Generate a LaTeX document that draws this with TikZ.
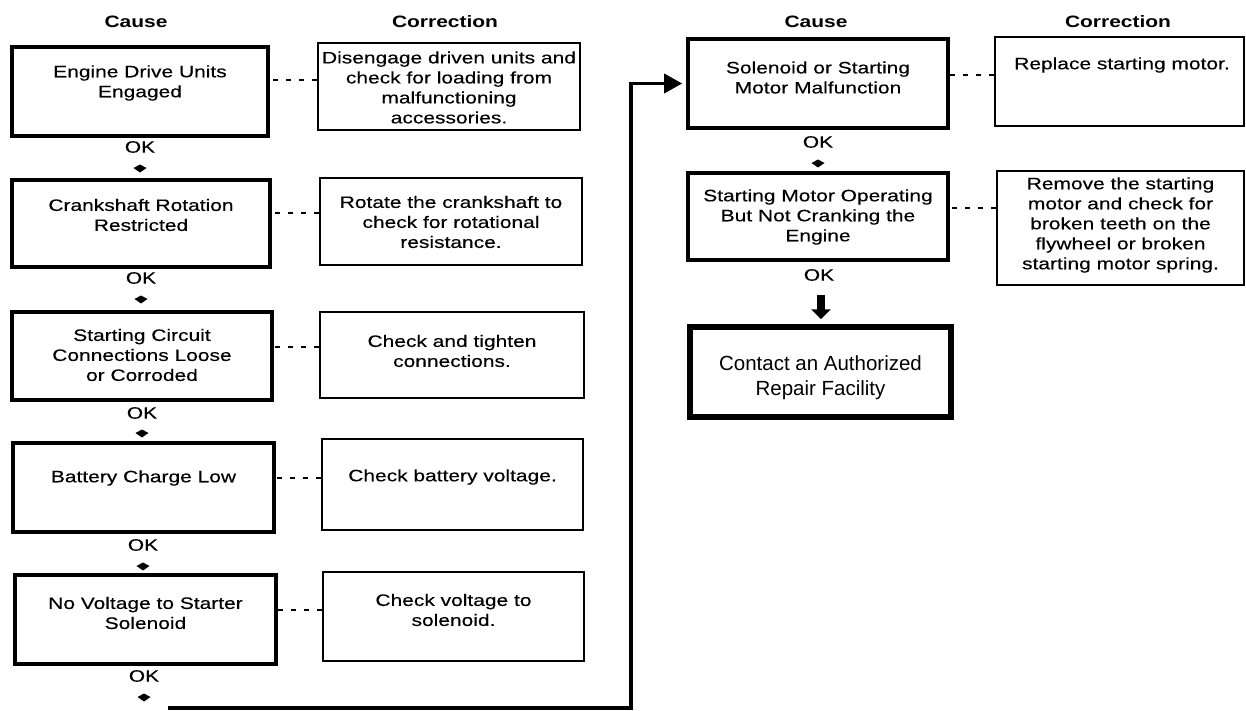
\documentclass[tikz,border=0pt]{standalone}
\usepackage{fontspec}
\setmainfont{Liberation Sans}[FakeStretch=1.27, UprightFeatures={FakeBold=0.3}]
\newfontfamily\contactfont{Liberation Sans}
\usetikzlibrary{arrows.meta}
\tikzset{
  causebox/.style={draw, line width=3.6pt, rectangle, inner sep=0pt},
  corrbox/.style={draw, line width=1.7pt, rectangle, inner sep=0pt},
  endbox/.style={draw, line width=5.5pt, rectangle, inner sep=0pt},
  txt/.style={align=center, inner sep=0pt, font=\fontsize{16.5}{20}\selectfont},
  endtxt/.style={align=center, inner sep=0pt, font=\contactfont\fontsize{20.5}{25}\selectfont},
  hdr/.style={inner sep=0pt, font=\bfseries\fontsize{16.5}{20}\selectfont},
  link/.style={line width=2pt, dash pattern=on 5pt off 8pt},
  feedback/.style={line width=3.5pt, -{Triangle[width=19pt,length=18pt]}, shorten >=4pt},
  bigarrow/.style={line width=8pt, -{Triangle[width=19pt,length=10pt]}, shorten >=5pt},
}
\newcommand\okarrow[1]{\fill (#1) ++(-6.5,0) -- ++(6.5,-3.5) -- ++(6.5,3.5) -- ++(-6.5,4.5) -- cycle;}
\begin{document}
\begin{tikzpicture}[x=1pt, y=-1pt]
\useasboundingbox[fill=white] (0,0) rectangle (1246,711);

% headers
\node[hdr] (h1) at (136,22) {Cause};
\node[hdr] (h2) at (445,22) {Correction};
\node[hdr] (h3) at (816,22) {Cause};
\node[hdr] (h4) at (1118,22) {Correction};

% left cause boxes
\node[causebox, minimum width=256pt, minimum height=89pt] (c1) at (140,91.5) {};
\node[causebox, minimum width=258pt, minimum height=87pt] (c2) at (141,223.5) {};
\node[causebox, minimum width=260pt, minimum height=88pt] (c3) at (142,356) {};
\node[causebox, minimum width=261pt, minimum height=89pt] (c4) at (143.5,487.5) {};
\node[causebox, minimum width=261pt, minimum height=89pt] (c5) at (145.5,619.5) {};

\node[txt] (c1t) at (140,83) {Engine Drive Units\\Engaged};
\node[txt] (c2t) at (141,215) {Crankshaft Rotation\\Restricted};
\node[txt] (c3t) at (142,355) {Starting Circuit\\Connections Loose\\or Corroded};
\node[txt] (c4t) at (143.5,478) {Battery Charge Low};
\node[txt] (c5t) at (145.5,613) {No Voltage to Starter\\Solenoid};

% left correction boxes
\node[corrbox, minimum width=262pt, minimum height=87pt] (k1) at (449,86.5) {};
\node[corrbox, minimum width=262pt, minimum height=87pt] (k2) at (451,221.5) {};
\node[corrbox, minimum width=264pt, minimum height=86pt] (k3) at (452,355) {};
\node[corrbox, minimum width=261pt, minimum height=91pt] (k4) at (452.5,484.5) {};
\node[corrbox, minimum width=261pt, minimum height=89pt] (k5) at (453.5,616.5) {};

\node[txt] (k1t) at (449,87.5) {Disengage driven units and\\check for loading from\\malfunctioning\\accessories.};
\node[txt] (k2t) at (451,222) {Rotate the crankshaft to\\check for rotational\\resistance.};
\node[txt] (k3t) at (452,351) {Check and tighten\\connections.};
\node[txt] (k4t) at (452.5,477) {Check battery voltage.};
\node[txt] (k5t) at (453.5,610) {Check voltage to\\solenoid.};

% dotted links (left)
\coordinate (l1) at ([yshift=11.5pt]c1.east);
\coordinate (l2) at ([yshift=10.5pt]c2.east);
\coordinate (l3) at ([yshift=9pt]c3.east);
\coordinate (l4) at ([yshift=9.5pt]c4.east);
\coordinate (l5) at ([yshift=9.5pt]c5.east);
\draw[link] (l1 -| k1.west) -- (l1);
\draw[link] (l2 -| k2.west) -- (l2);
\draw[link] (l3 -| k3.west) -- (l3);
\draw[link] (l4 -| k4.west) -- (l4);
\draw[link] (l5 -| k5.west) -- (l5);

% OK labels and small arrows (left)
\node[txt] (ok1) at (140,147) {OK};
\node[txt] (ok2) at (141,278) {OK};
\node[txt] (ok3) at (142,413) {OK};
\node[txt] (ok4) at (143,545) {OK};
\node[txt] (ok5) at (144,676) {OK};
\coordinate (a1) at (140,168);
\coordinate (a2) at (141,299);
\coordinate (a3) at (142,433);
\coordinate (a4) at (143,566);
\coordinate (a5) at (144,697);
\okarrow{a1}\okarrow{a2}\okarrow{a3}\okarrow{a4}\okarrow{a5}

% right cause boxes
\node[causebox, minimum width=260pt, minimum height=89pt] (r1) at (818,83.5) {};
\node[causebox, minimum width=260pt, minimum height=87pt] (r2) at (818,216.5) {};
\node[txt] (r1t) at (818,77.5) {Solenoid or Starting\\Motor Malfunction};
\node[txt] (r2t) at (818,217) {Starting Motor Operating\\But Not Cranking the\\Engine};

% right correction boxes
\node[corrbox, minimum width=249pt, minimum height=89pt] (rk1) at (1119.5,81.5) {};
\node[corrbox, minimum width=247pt, minimum height=114pt] (rk2) at (1120.5,228) {};
\node[txt] (rk1t) at (1122,65) {Replace starting motor.};
\node[txt] (rk2t) at (1120.5,225) {Remove the starting\\motor and check for\\broken teeth on the\\flywheel or broken\\starting motor spring.};

\coordinate (m1) at ([yshift=8.5pt]r1.east);
\coordinate (m2) at ([yshift=8.5pt]r2.east);
\draw[link] (m1 -| rk1.west) -- (m1);
\draw[link] (m2 -| rk2.west) -- (m2);

% OK labels right
\node[txt] (ok6) at (818,142) {OK};
\coordinate (a6) at (818,163);
\okarrow{a6}
\node[txt] (ok7) at (819,275) {OK};

% contact box
\node[endbox, minimum width=261pt, minimum height=90pt] (ct) at (820.5,372) {};
\node[endtxt] (ctt) at (820.5,377.5) {Contact an Authorized\\Repair Facility};

\coordinate (bs) at (821,295);
\draw[bigarrow] (bs) -- (bs |- ct.north);

% feedback connector
\coordinate (fb0) at (168,708);
\coordinate (fb1) at (631,708);
\draw[feedback] (fb0) -- (fb1) -- (fb1 |- r1.west) -- (r1.west);
\end{tikzpicture}
\end{document}
